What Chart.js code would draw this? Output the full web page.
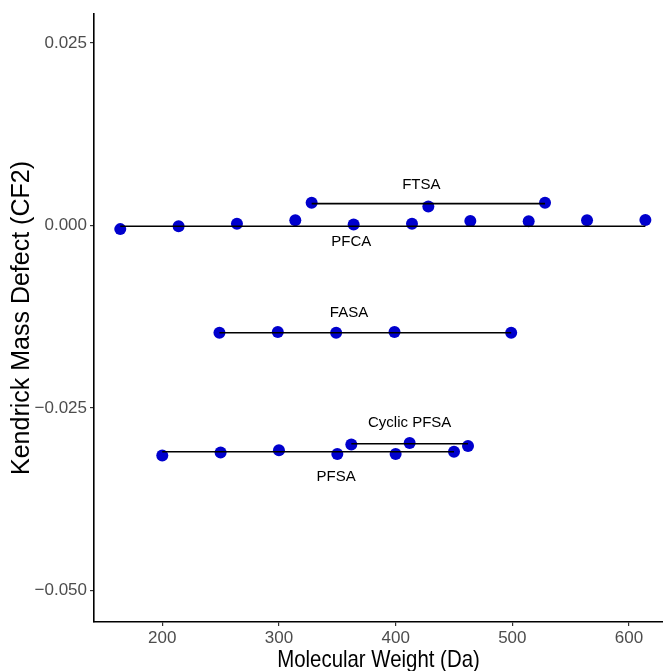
<!DOCTYPE html>
<html>
<head>
<meta charset="utf-8">
<script src="https://cdn.jsdelivr.net/npm/chart.js@4.4.1/dist/chart.umd.min.js"></script>
<style>
  html, body { margin: 0; padding: 0; background: #fff; }
  #wrap { width: 663px; height: 671px; }
</style>
</head>
<body>
<div id="wrap"><canvas id="kmd" width="663" height="671"></canvas></div>
<script>
// ── data ─────────────────────────────────────────────────────────────────────

const pfcaMW = [164, 214, 264, 314, 364, 414, 464, 514, 564, 614];
const pfcaKMD = [-0.0005, -0.0001, 0.00024, 0.0007, 0.00014, 0.00024, 0.0006, 0.00058, 0.0007, 0.00076];

const ftsaMW = [328, 428, 528];
const ftsaKMD = [0.0031, 0.0026, 0.0031];

const fasaMW = [249, 299, 349, 399, 499];
const fasaKMD = [-0.0147, -0.0146, -0.0147, -0.0146, -0.0147];

const pfsaMW = [200, 250, 300, 350, 400, 450];
const pfsaKMD = [-0.0315, -0.0311, -0.0308, -0.0313, -0.0313, -0.0310];

const cyclicMW = [362, 412, 462];
const cyclicKMD = [-0.0300, -0.0298, -0.0302];

// horizontal reference line per class: [fromMW, toMW, KMD]
const lineSegments = [
  [164, 614, -0.0001],
  [328, 528, 0.0030],
  [249, 499, -0.0147],
  [200, 450, -0.0310],
  [362, 462, -0.0299],
];

const labelText = ['FTSA', 'PFCA', 'FASA', 'Cyclic PFSA', 'PFSA'];
const labelMW = [422, 362, 360, 412, 349];
const labelKMD = [0.0056, -0.0023, -0.0120, -0.0270, -0.0344];

const xTicks = [200, 300, 400, 500, 600];
const yTicks = [0.025, 0, -0.025, -0.05];

const xTitle = 'Molecular Weight (Da)';
const yTitle = 'Kendrick Mass Defect (CF2)';

// ── helpers ──────────────────────────────────────────────────────────────────

const pts = (xs, ys) => xs.map((x, i) => ({ x, y: ys[i] }));

function yFmt(v) {
  const s = Math.abs(v).toFixed(3);
  return v < 0 ? '\u2212' + s : s;
}

const classLabels = {
  id: 'classLabels',
  afterDatasetsDraw(chart) {
    const { ctx, scales } = chart;
    ctx.save();
    ctx.fillStyle = '#000';
    ctx.font = '15px "Liberation Sans", Arial, sans-serif';
    ctx.textAlign = 'center';
    ctx.textBaseline = 'middle';
    labelText.forEach((t, i) => {
      ctx.fillText(t, scales.x.getPixelForValue(labelMW[i]), scales.y.getPixelForValue(labelKMD[i]));
    });
    ctx.restore();
  },
};

// x title is a bit condensed in the original, so draw it squeezed
const narrowXTitle = {
  id: 'narrowXTitle',
  afterDraw(chart) {
    const { ctx, chartArea } = chart;
    const cx = (chartArea.left + chartArea.right) / 2;
    ctx.save();
    ctx.translate(cx, 660);
    ctx.scale(0.85, 1);
    ctx.fillStyle = '#000';
    ctx.font = '24px "Liberation Sans", Arial, sans-serif';
    ctx.textAlign = 'center';
    ctx.textBaseline = 'middle';
    ctx.fillText(xTitle, 0, 0);
    ctx.restore();
  },
};

// ── chart ────────────────────────────────────────────────────────────────────

const lineSets = lineSegments.map(([a, b, y]) => ({
  type: 'line',
  data: [{ x: a, y }, { x: b, y }],
  borderColor: '#000',
  borderWidth: 1.6,
  pointRadius: 0,
  fill: false,
}));

const pointSets = [
  [pfcaMW, pfcaKMD],
  [ftsaMW, ftsaKMD],
  [fasaMW, fasaKMD],
  [pfsaMW, pfsaKMD],
  [cyclicMW, cyclicKMD],
].map(([xs, ys]) => ({
  type: 'scatter',
  data: pts(xs, ys),
  backgroundColor: '#0000CD',
  borderColor: '#0000CD',
  borderWidth: 0,
  pointRadius: 6,
}));

const tickFont = { family: '"Liberation Sans", Arial, sans-serif', size: 17 };

new Chart(document.getElementById('kmd'), {
  type: 'scatter',
  data: { datasets: [...lineSets, ...pointSets] },
  options: {
    responsive: false,
    animation: false,
    devicePixelRatio: 1,
    layout: { autoPadding: false, padding: { top: 14, right: 0, left: 0, bottom: 0 } },
    plugins: { legend: { display: false }, tooltip: { enabled: false } },
    scales: {
      x: {
        type: 'linear',
        min: 141.5,
        max: 629.1,
        afterBuildTicks: (s) => { s.ticks = xTicks.map((v) => ({ value: v })); },
        afterFit: (s) => { s.height = 49; },
        grid: { drawOnChartArea: false, drawTicks: true, tickLength: 4, color: '#333', lineWidth: 1.2 },
        border: { display: true, color: '#000', width: 1.6 },
        ticks: { color: '#4d4d4d', font: tickFont, padding: 2, maxRotation: 0 },
        title: { display: false },
      },
      y: {
        type: 'linear',
        min: -0.05432,
        max: 0.02897,
        afterBuildTicks: (s) => { s.ticks = yTicks.map((v) => ({ value: v })); },
        afterFit: (s) => { s.width = 94; },
        grid: { drawOnChartArea: false, drawTicks: true, tickLength: 4, color: '#333', lineWidth: 1.2 },
        border: { display: true, color: '#000', width: 1.6 },
        ticks: { color: '#4d4d4d', font: tickFont, padding: 3, callback: (v) => yFmt(v) },
        title: {
          display: true,
          text: yTitle,
          color: '#000',
          font: { family: '"Liberation Sans", Arial, sans-serif', size: 25, lineHeight: 1.2 },
          padding: { top: 7, bottom: 0 },
        },
      },
    },
  },
  plugins: [classLabels, narrowXTitle],
});
</script>
</body>
</html>
